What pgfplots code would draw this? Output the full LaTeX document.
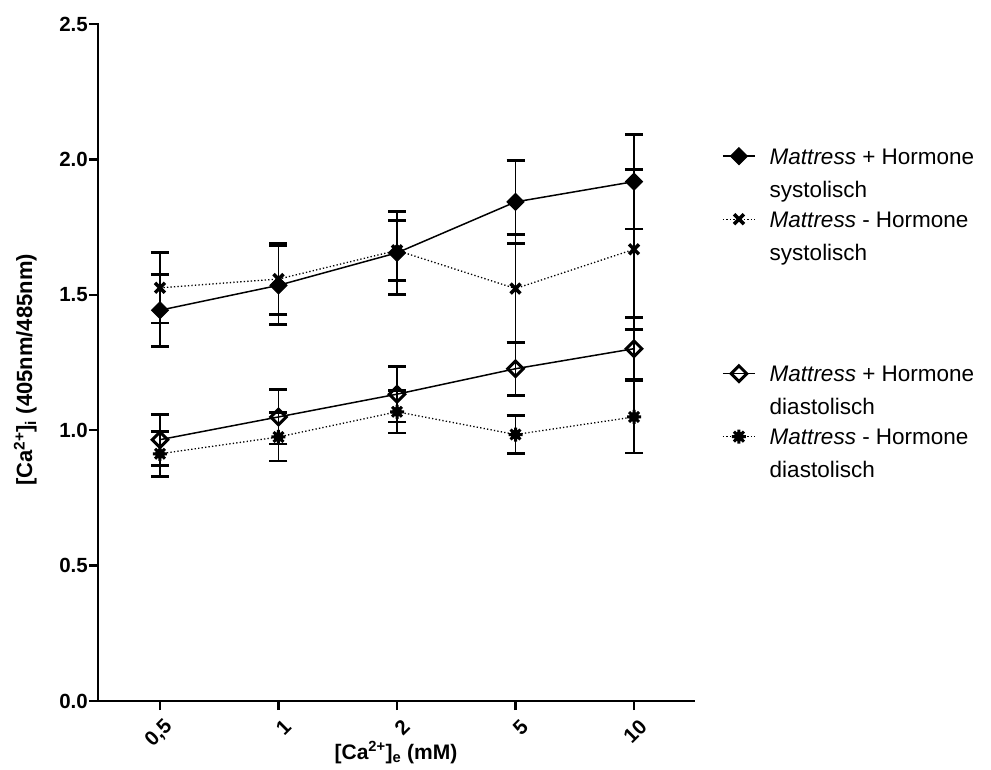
\documentclass[border=0pt]{standalone}
\usepackage{fontspec}
\setmainfont{Liberation Sans}
\usepackage{pgfplots}
\pgfplotsset{compat=1.18}
\pgfdeclareplotmark{burst}{%
  \pgfpathmoveto{\pgfqpoint{0pt}{\pgfplotmarksize}}\pgfpathlineto{\pgfqpoint{0pt}{-\pgfplotmarksize}}%
  \pgfpathmoveto{\pgfqpoint{\pgfplotmarksize}{0pt}}\pgfpathlineto{\pgfqpoint{-\pgfplotmarksize}{0pt}}%
  \pgfpathmoveto{\pgfqpoint{.707\pgfplotmarksize}{.707\pgfplotmarksize}}\pgfpathlineto{\pgfqpoint{-.707\pgfplotmarksize}{-.707\pgfplotmarksize}}%
  \pgfpathmoveto{\pgfqpoint{.707\pgfplotmarksize}{-.707\pgfplotmarksize}}\pgfpathlineto{\pgfqpoint{-.707\pgfplotmarksize}{.707\pgfplotmarksize}}%
  \pgfusepathqstroke
  \pgfpathcircle{\pgfpointorigin}{.5\pgfplotmarksize}\pgfusepathqfillstroke
}
\pgfplotstableread{
x y e
0 1.443 0.133
1 1.535 0.146
2 1.655 0.153
3 1.843 0.153
4 1.918 0.175
}\tA
\pgfplotstableread{
x y e
0 1.526 0.130
1 1.558 0.130
2 1.664 0.111
3 1.523 0.199
4 1.668 0.296
}\tB
\pgfplotstableread{
x y e
0 0.965 0.094
1 1.049 0.100
2 1.133 0.103
3 1.227 0.098
4 1.301 0.115
}\tC
\pgfplotstableread{
x y e
0 0.913 0.083
1 0.975 0.089
2 1.068 0.078
3 0.984 0.069
4 1.049 0.133
}\tD
\begin{document}
\begin{tikzpicture}
\useasboundingbox (-98pt,-68pt) rectangle (893pt,701pt);
\begin{axis}[
  scale only axis, width=596pt, height=677pt,
  xmin=-0.523, xmax=4.506, ymin=0, ymax=2.5,
  axis x line*=bottom, axis y line*=left,
  axis line style={line width=2.5pt, line cap=rect},
  tick pos=left, tick align=outside, major tick length=9pt,
  tick style={line width=2.5pt, black},
  major tick style={line width=2.5pt, black},
  xtick={0,1,2,3,4}, xticklabels={{0,5},1,2,5,10},
  ytick={0,0.5,1,1.5,2,2.5},
  yticklabel style={inner sep=1pt, /pgf/number format/fixed, /pgf/number format/fixed zerofill, /pgf/number format/precision=1, /pgf/number format/assume math mode=true},
  tick label style={font=\bfseries\fontsize{20.5}{21}\selectfont},
  xticklabel style={rotate=45, anchor=east, inner sep=1pt, yshift=-16pt, xshift=-2pt},
  xlabel={[Ca\textsuperscript{2+}]\textsubscript{e} (mM)},
  every axis x label/.style={at={(axis description cs:0.5,0)}, anchor=base, yshift=-58pt, font=\bfseries\fontsize{21}{22}\selectfont},
  ylabel={[Ca\textsuperscript{2+}]\textsubscript{i} (405nm/485nm)},
  every axis y label/.style={at={(axis description cs:-0.097,0.489)}, rotate=90, anchor=south, font=\bfseries\fontsize{22}{23}\selectfont},
  error bars/error bar style={line width=1.5pt, solid},
  error bars/error mark options={rotate=90, mark size=9pt, line width=2.8pt, solid},
  legend image code/.code={\draw[yshift=41pt, mark repeat=2,mark phase=2,#1] plot coordinates {(0pt,0pt)(16pt,0pt)(32pt,0pt)};},
  legend style={draw=none, fill=none, at={(rel axis cs:1.042,0.822)}, anchor=north west,
    font=\fontsize{22.5}{33}\selectfont, cells={anchor=base west, align=left}, row sep=9pt, column sep=12pt},
]
\addplot[black, line width=1.5pt, mark=square*, mark size=6pt, mark options={rotate=45, solid, line width=1pt},
  error bars/.cd, y dir=both, y explicit] table[x=x, y=y, y error=e] {\tA};
\addlegendentry{\textit{Mattress} + Hormone\\systolisch}
\addplot[black, line width=1.3pt, dash pattern=on 1.3pt off 2.2pt, mark=x, mark size=7pt, mark options={solid, line width=3.5pt},
  error bars/.cd, y dir=both, y explicit] table[x=x, y=y, y error=e] {\tB};
\addlegendentry{\textit{Mattress} - Hormone\\systolisch}
\addlegendimage{empty legend}
\addlegendentry{\rule{0pt}{77pt}}
\addplot[black, line width=1.5pt, mark=square, mark size=5.5pt, mark options={rotate=45, solid, line width=3pt},
  error bars/.cd, y dir=both, y explicit] table[x=x, y=y, y error=e] {\tC};
\addlegendentry{\textit{Mattress} + Hormone\\diastolisch}
\addplot[black, line width=1.3pt, dash pattern=on 1.3pt off 2.2pt, mark=burst, mark size=7pt, mark options={solid, line width=3pt},
  error bars/.cd, y dir=both, y explicit] table[x=x, y=y, y error=e] {\tD};
\addlegendentry{\textit{Mattress} - Hormone\\diastolisch}
\end{axis}
\end{tikzpicture}
\end{document}
